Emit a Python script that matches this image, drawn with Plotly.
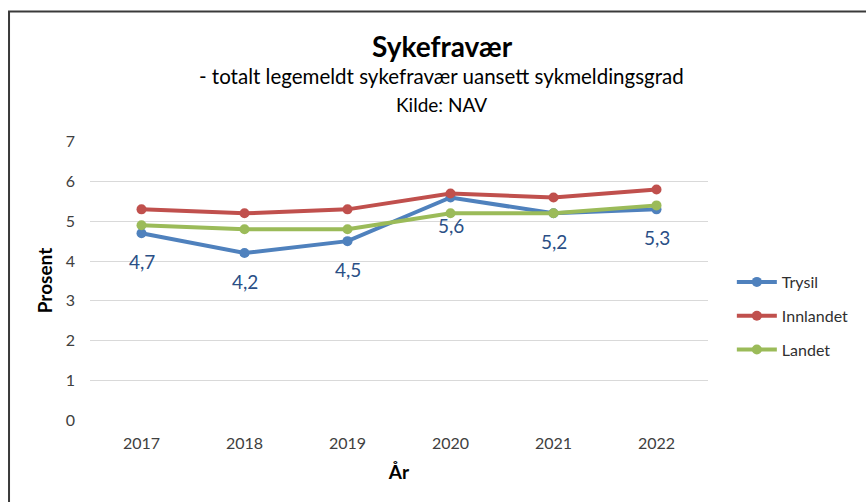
import plotly.graph_objects as go

years = ["2017", "2018", "2019", "2020", "2021", "2022"]
trysil = [4.7, 4.2, 4.5, 5.6, 5.2, 5.3]
innlandet = [5.3, 5.2, 5.3, 5.7, 5.6, 5.8]
landet = [4.9, 4.8, 4.8, 5.2, 5.2, 5.4]
y_ticks = [0, 1, 2, 3, 4, 5, 6, 7]

FONT = "Lato"
series = [("Trysil", trysil, "#4F81BD"), ("Innlandet", innlandet, "#C0504D"), ("Landet", landet, "#9BBB59")]

fig = go.Figure()
for name, vals, col in series:
    fig.add_trace(go.Scatter(x=years, y=vals, name=name, mode="lines+markers", legendgroup=name,
                             line=dict(color=col, width=4), marker=dict(color=col, size=10)))

for i, v in enumerate(trysil):
    fig.add_annotation(x=i, y=v, text=f"{v:.1f}".replace(".", ","), showarrow=False,
                       yshift=-28, font=dict(family=FONT, size=19, color="#2A4F86"))

L, R, T, B = 90, 154, 141, 82
W, H = 866, 502
pw, ph = W - L - R, H - T - B
def px(x): return (x - L) / pw
def py(y): return (H - B - y) / ph

fig.add_annotation(x=px(445), y=py(46), xref="paper", yref="paper", text="<b>Sykefravær</b>",
                   xanchor="center", yanchor="middle",
                   showarrow=False, font=dict(family=FONT, size=28, color="#000000"))
fig.add_annotation(x=px(444), y=py(76), xref="paper", yref="paper",
                   text="- totalt legemeldt sykefravær uansett sykmeldingsgrad",
                   xanchor="center", yanchor="middle",
                   showarrow=False, font=dict(family=FONT, size=20.5, color="#000000"))
fig.add_annotation(x=px(444), y=py(104), xref="paper", yref="paper", text="Kilde: NAV",
                   xanchor="center", yanchor="middle",
                   showarrow=False, font=dict(family=FONT, size=19, color="#000000"))

fig.add_shape(type="rect", xref="paper", yref="paper", x0=px(8.5), x1=px(900), y0=py(540), y1=py(11.5),
              line=dict(color="#3A3A3A", width=2), fillcolor="rgba(0,0,0,0)", layer="below")

fig.update_layout(
    width=W, height=H, margin=dict(l=L, r=R, t=T, b=B),
    paper_bgcolor="white", plot_bgcolor="white",
    font=dict(family=FONT, size=16, color="#404040"),
    xaxis=dict(type="category", range=[-0.5, 5.5], showgrid=False, showline=False,
               ticks="", tickfont=dict(size=16, color="#404040"), zeroline=False, ticklabelstandoff=12,
               title=dict(text="<b>År</b>", font=dict(size=19, color="#000000"), standoff=14)),
    yaxis=dict(range=[0, 7.02], tickvals=y_ticks, showgrid=True, gridcolor="#D9D9D9", gridwidth=1,
               zeroline=False, showline=False, ticks="", ticklabelstandoff=14,
               tickfont=dict(size=16, color="#404040"),
               title=dict(text="<b>Prosent</b>", font=dict(size=19, color="#000000"), standoff=8)),
    legend=dict(x=px(736), y=py(265), xanchor="left", yanchor="top",
                font=dict(size=16, color="#303030"), tracegroupgap=10, itemwidth=40,
                bgcolor="rgba(0,0,0,0)"),
    showlegend=True,
)
fig.write_html("out.html", post_script="document.body.style.margin='0';",
               config={"displayModeBar": False})
